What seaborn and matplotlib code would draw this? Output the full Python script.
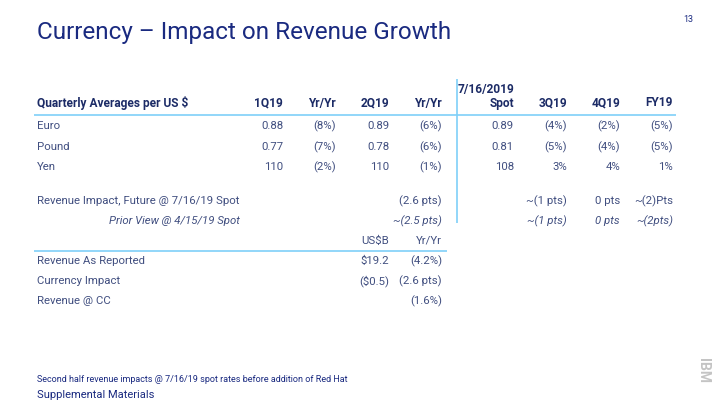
import matplotlib
matplotlib.use("Agg")
import matplotlib.pyplot as plt
import seaborn as sns

# ---------------------------------------------------
# Data
# ---------------------------------------------------
title = "Currency \u2013 Impact on Revenue Growth"

columns = ["1Q19", "Yr/Yr", "2Q19", "Yr/Yr", "7/16/2019\nSpot", "3Q19", "4Q19", "FY19"]
currencies = ["Euro", "Pound", "Yen"]
euro = ["0.88", "(8%)", "0.89", "(6%)", "0.89", "(4%)", "(2%)", "(5%)"]
pound = ["0.77", "(7%)", "0.78", "(6%)", "0.81", "(5%)", "(4%)", "(5%)"]
yen = ["110", "(2%)", "110", "(1%)", "108", "3%", "4%", "1%"]

impact_label = "Revenue Impact, Future @ 7/16/19 Spot"
impact = ["", "", "", "(2.6 pts)", "", "~(1 pts)", "0 pts", "~(2)Pts"]
prior_label = "Prior View @ 4/15/19 Spot"
prior = ["", "", "", "~(2.5 pts)", "", "~(1 pts)", "0 pts", "~(2pts)"]

rev_columns = ["US$B", "Yr/Yr"]
rev_rows = ["Revenue As Reported", "Currency Impact", "Revenue @ CC"]
rev_usd = ["$19.2", "($0.5)", ""]
rev_yy = ["(4.2%)", "(2.6 pts)", "(1.6%)"]

footnote = "Second half revenue impacts @ 7/16/19 spot rates before addition of Red Hat"
footer = "Supplemental Materials"
page = "13"

# ---------------------------------------------------
# Style
# ---------------------------------------------------
sns.set_theme(style="white")
plt.rcParams["font.family"] = ["Roboto", "DejaVu Sans"]

navy = "#1a2a80"
body = "#414f80"
head = "#1c2b66"
rule = "#7fd0f8"

col_x = [283, 336, 389, 442, 514, 567, 620, 673]
row_y = [126, 147, 167]
fs = 8.2
hfs = 8.6

fig, ax = plt.subplots(figsize=(7.2, 4.05), dpi=100)
fig.subplots_adjust(0, 0, 1, 1)
ax.set_xlim(0, 720)
ax.set_ylim(405, 0)
ax.axis("off")

# title + page number
ax.text(37, 32, title, fontsize=17.5, color=navy, va="center", ha="left")
ax.text(693, 20, page, fontsize=6.5, color=navy, va="center", ha="right")

# header row (multi-line headers stacked upwards)
ax.text(37, 103, "Quarterly Averages per US $", fontsize=hfs, color=head,
        fontweight="bold", va="center")
for x, c in zip(col_x, columns):
    lines = c.split("\n")
    for k, line in enumerate(reversed(lines)):
        ax.text(x, 103 - 14 * k, line, fontsize=hfs, color=head,
                fontweight="bold", va="center", ha="right")

ax.hlines(115, 34, 676, color=rule, lw=1.2)
ax.vlines(457, 79, 223, color=rule, lw=1.2)

# currency rows
for y, name, vals in zip(row_y, currencies, [euro, pound, yen]):
    ax.text(37, y, name, fontsize=fs, color=body, va="center")
    for x, v in zip(col_x, vals):
        ax.text(x, y, v, fontsize=fs, color=body, va="center", ha="right")

# revenue impact rows
ax.text(37, 201, impact_label, fontsize=fs, color=body, va="center")
for x, v in zip(col_x, impact):
    ax.text(x, 201, v, fontsize=fs, color=body, va="center", ha="right")
ax.text(240, 221, prior_label, fontsize=fs, color=body, va="center",
        ha="right", style="italic")
for x, v in zip(col_x, prior):
    ax.text(x, 221, v, fontsize=fs, color=body, va="center", ha="right",
            style="italic")

# second table
for x, c in zip(col_x[2:4], rev_columns):
    ax.text(x, 241, c, fontsize=fs, color=body, va="center", ha="right")
ax.hlines(251, 34, 447, color=rule, lw=1.2)
for y, name, u, p in zip([261, 281, 301], rev_rows, rev_usd, rev_yy):
    ax.text(37, y, name, fontsize=fs, color=body, va="center")
    ax.text(col_x[2], y, u, fontsize=fs, color=body, va="center", ha="right")
    ax.text(col_x[3], y, p, fontsize=fs, color=body, va="center", ha="right")

# footer
ax.text(37, 379, footnote, fontsize=6.5, color=navy, va="center")
ax.text(37, 395, footer, fontsize=8, color=navy, va="center")
ax.text(703, 370, "IBM", fontsize=10, color="#c4c4c4", fontweight="bold",
        va="center", ha="center", rotation=-90)

plt.savefig("out.png", dpi=100)
